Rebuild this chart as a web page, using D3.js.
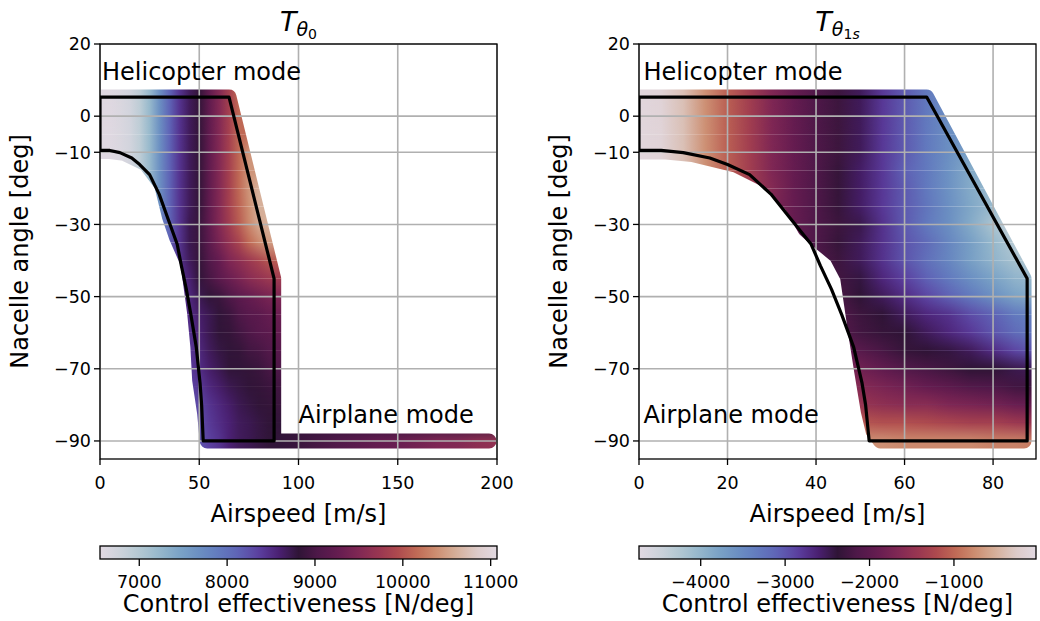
<!DOCTYPE html>
<html><head><meta charset="utf-8">
<script src="https://cdn.jsdelivr.net/npm/d3@7/dist/d3.min.js"></script>
<style>
html,body{margin:0;padding:0;background:#fff;}
svg text{font-family:"DejaVu Sans",sans-serif;fill:#000;}
</style></head>
<body><svg id="chart" width="1040" height="621" xmlns="http://www.w3.org/2000/svg"></svg>
<script>
const _ = null;
// nacelle angle rows [deg] and airspeed columns [m/s]
const angles = [5,0,-5,-10,-15,-20,-25,-30,-35,-40,-45,-50,-55,-60,-65,-70,-75,-80,-85,-90];
const speedCols = [0,5,10,15,20,25,30,35,40,45,50,55,60,65,70,75,80,85,90];

// T_theta0 control effectiveness [N/deg]
const valuesTheta0 = [
 [6590,6590,6640,6730,6910,7220,7670,8120,8440,8670,8850,9210,9520,9840,10150,_,_,_,_],
 [6590,6590,6640,6730,6910,7220,7670,8120,8440,8670,8850,9210,9520,9840,10150,_,_,_,_],
 [6590,6590,6640,6730,6910,7220,7670,8120,8440,8670,8850,9210,9520,9840,10150,_,_,_,_],
 [6590,6590,6640,6730,6910,7220,7670,8120,8440,8670,8850,9210,9520,9840,10150,10430,_,_,_],
 [_,_,_,_,6910,7220,7670,8120,8440,8670,8850,9210,9520,9840,10150,10430,_,_,_],
 [_,_,_,_,_,7220,7670,8120,8440,8670,8850,9210,9520,9840,10150,10430,10610,_,_],
 [_,_,_,_,_,_,7670,8120,8440,8670,8850,9210,9520,9840,10110,10380,10610,_,_],
 [_,_,_,_,_,_,7810,8120,8440,8710,8890,9210,9520,9790,10060,10340,10560,10610,_],
 [_,_,_,_,_,_,_,8170,8440,8710,8890,9160,9430,9660,9880,10150,10340,10470,_],
 [_,_,_,_,_,_,_,_,8440,8670,8850,9070,9250,9480,9610,9750,9880,10020,10060],
 [_,_,_,_,_,_,_,_,8440,8580,8800,8980,9160,9300,9430,9570,9660,9750,9790],
 [_,_,_,_,_,_,_,_,8440,8530,8710,8800,8890,9030,9160,9250,9340,9430,9480],
 [_,_,_,_,_,_,_,_,_,8490,8620,8710,8800,8890,9030,9120,9160,9250,9300],
 [_,_,_,_,_,_,_,_,_,8440,8580,8710,8800,8850,8940,9030,9120,9160,9210],
 [_,_,_,_,_,_,_,_,_,8400,8530,8670,8760,8800,8850,8940,8980,9070,9120],
 [_,_,_,_,_,_,_,_,_,8400,8490,8620,8710,8800,8800,8850,8890,8980,9030],
 [_,_,_,_,_,_,_,_,_,8350,8400,8530,8620,8710,8760,8800,8850,8890,8940],
 [_,_,_,_,_,_,_,_,_,8260,8300,8440,8530,8620,8710,8760,8800,8850,8890],
 [_,_,_,_,_,_,_,_,_,_,8260,8400,8490,8580,8670,8710,8760,8800,8800],
 [_,_,_,_,_,_,_,_,_,_,8210,8350,8440,8580,8670,8710,8760,8800,8800]
];
// airplane-mode row (-90 deg) beyond 90 m/s for T_theta0
const airplaneSpeeds = [100,110,120,130,140,150,160,170,180,190,200];
const airplaneTheta0 = [8890,8980,9070,9160,9250,9300,9390,9480,9520,9610,9660];

// T_theta1s control effectiveness [N/deg]
const valuesTheta1s = [
 [-80,-130,-360,-730,-1060,-1340,-1670,-1910,-2140,-2280,-2520,-2800,-3030,-3310,-3550,_,_,_,_],
 [-80,-130,-360,-730,-1060,-1340,-1670,-1910,-2140,-2280,-2520,-2800,-3030,-3310,-3550,_,_,_,_],
 [-80,-130,-360,-730,-1060,-1340,-1670,-1910,-2140,-2280,-2520,-2800,-3030,-3310,-3550,_,_,_,_],
 [-80,-130,-360,-730,-1060,-1340,-1670,-1910,-2140,-2280,-2520,-2800,-3030,-3310,-3550,-3780,_,_,_],
 [_,_,_,-730,-1060,-1340,-1670,-1910,-2140,-2330,-2560,-2800,-3080,-3310,-3590,-3880,_,_,_],
 [_,_,_,_,_,-1340,-1630,-1910,-2140,-2330,-2560,-2800,-3030,-3310,-3590,-3880,-4060,_,_],
 [_,_,_,_,_,_,-1670,-1910,-2140,-2330,-2560,-2800,-3030,-3270,-3550,-3830,-4060,_,_],
 [_,_,_,_,_,_,-1720,-1910,-2140,-2280,-2470,-2750,-3030,-3310,-3550,-3880,-4200,-4440,_],
 [_,_,_,_,_,_,_,-1950,-2140,-2330,-2520,-2750,-2990,-3170,-3450,-3740,-4020,-4300,_],
 [_,_,_,_,_,_,_,_,-2140,-2280,-2520,-2750,-2990,-3220,-3450,-3740,-3970,-4160,-4250],
 [_,_,_,_,_,_,_,_,-2100,-2240,-2420,-2660,-2850,-3080,-3310,-3550,-3780,-3970,-4060],
 [_,_,_,_,_,_,_,_,-2100,-2190,-2380,-2520,-2700,-2890,-3080,-3310,-3550,-3780,-3880],
 [_,_,_,_,_,_,_,_,_,-2100,-2280,-2380,-2520,-2660,-2750,-2940,-3080,-3310,-3410],
 [_,_,_,_,_,_,_,_,_,-2050,-2240,-2330,-2380,-2520,-2660,-2800,-2990,-3170,-3310],
 [_,_,_,_,_,_,_,_,_,-1910,-2050,-2190,-2330,-2380,-2420,-2520,-2700,-2890,-3030],
 [_,_,_,_,_,_,_,_,_,-1720,-1810,-1950,-2100,-2190,-2280,-2380,-2380,-2470,-2520],
 [_,_,_,_,_,_,_,_,_,-1580,-1630,-1720,-1810,-1910,-2000,-2100,-2140,-2240,-2280],
 [_,_,_,_,_,_,_,_,_,-1390,-1440,-1530,-1580,-1580,-1670,-1720,-1770,-1860,-1910],
 [_,_,_,_,_,_,_,_,_,_,-1110,-1160,-1160,-1200,-1250,-1300,-1300,-1390,-1440],
 [_,_,_,_,_,_,_,_,_,_,-730,-730,-780,-780,-780,-780,-830,-830,-880]
];

// extent of the sampled points (speed, angle) for each panel
const regionTheta0Speed = [0,65,87.5,87.5,196,54,52.7,50.2,49.3,47.7,44.3,38.4,35,31,23,12,5,0];
const regionTheta0Angle = [5.3,5.3,-45,-90,-90,-90,-82.3,-73.1,-63.9,-54.6,-40.8,-33.4,-27.9,-19,-13.2,-10.3,-9.8,-9.8];
const regionTheta1sSpeed = [0,65,87,87,54.5,52.9,51.8,50.3,49.1,48.0,47.1,44.6,40,37.5,34.5,29.6,22,12,5.5,0];
const regionTheta1sAngle = [5.3,5.3,-45,-90,-90,-87.3,-81.7,-70.6,-61.2,-52,-44.5,-38.7,-34.1,-31.3,-24.8,-18.3,-13.6,-10.6,-9.9,-9.9];

// flight envelope outline
const envelopeSpeed = [0,65,87.7,87.7,52,51.2,50.4,48.5,45.8,43.5,41,38.9,34.3,29.8,25,20,16,10,5,0,0];
const envelopeAngle = [5.3,5.3,-45,-90,-90,-80,-74,-64,-55,-48,-41.5,-35.5,-28.5,-21.6,-16.2,-13.4,-11.6,-10.1,-9.5,-9.5,5.3];

// ticks
const yTicks = [20,0,-10,-30,-50,-70,-90];
const xTicksTheta0 = [0,50,100,150,200];
const xTicksTheta1s = [0,20,40,60,80];
const cbTicksTheta0 = [7000,8000,9000,10000,11000];
const cbTicksTheta1s = [-4000,-3000,-2000,-1000];
const cbRangeTheta0 = [6553,11072];
const cbRangeTheta1s = [-4731,-28];

// twilight colormap samples
const twilightStops = ["#e2d9e2","#cdd3db","#b3c8d2","#96b8cc","#7ba3c6","#6b8fc2","#627abe","#5f62b5","#5b3f9f","#4b2073","#2f1436","#4f1849","#651c50","#7f2754","#983551","#ae4a4e","#c16c56","#cd9073","#d6b19c","#ddcbc9","#e2d9e2"];

const svg = d3.select("#chart");
const defs = svg.append("defs");
const AX = {top:44, bottom:459, width:397};
const CB = {top:546, height:13};
const R = 7.5;
const fmt = v => String(v).replace("-", "\u2212");

const cmap = d3.scaleLinear()
  .domain(twilightStops.map((c,i)=>i/(twilightStops.length-1)))
  .range(twilightStops).interpolate(d3.interpolateRgb).clamp(true);

const ramp = defs.append("linearGradient").attr("id","ramp").attr("x1",0).attr("y1",0).attr("x2",0).attr("y2",1);
ramp.append("stop").attr("offset",0).attr("stop-color","#fff").attr("stop-opacity",0);
ramp.append("stop").attr("offset",1).attr("stop-color","#fff").attr("stop-opacity",1);
defs.append("mask").attr("id","rampMask").attr("maskContentUnits","objectBoundingBox")
  .attr("x",0).attr("y",0).attr("width",1).attr("height",1)
  .append("rect").attr("x",0).attr("y",0).attr("width",1).attr("height",1).attr("fill","url(#ramp)");

const panels = [
  {id:"p0", left:100, xDomain:[0,200], xTicks:xTicksTheta0, values:valuesTheta0,
   extraSpeeds:airplaneSpeeds, extraValues:airplaneTheta0, vDomain:cbRangeTheta0, cbTicks:cbTicksTheta0,
   regionSpeed:regionTheta0Speed, regionAngle:regionTheta0Angle, sub:["0"], airplane:[100,-85]},
  {id:"p1", left:639, xDomain:[0,89.7], xTicks:xTicksTheta1s, values:valuesTheta1s,
   extraSpeeds:null, extraValues:null, vDomain:cbRangeTheta1s, cbTicks:cbTicksTheta1s,
   regionSpeed:regionTheta1sSpeed, regionAngle:regionTheta1sAngle, sub:["1","s"], airplane:[1,-85]}
];

panels.forEach(p => {
  const x = d3.scaleLinear().domain(p.xDomain).range([p.left, p.left+AX.width]);
  const y = d3.scaleLinear().domain([-95,20]).range([AX.bottom, AX.top]);
  const cnorm = d3.scaleLinear().domain(p.vDomain).range([0,1]);
  const color = v => cmap(cnorm(v));
  const line = d3.line().x(d=>x(d[0])).y(d=>y(d[1]));

  defs.append("clipPath").attr("id",p.id+"-clip").append("rect")
    .attr("x",p.left).attr("y",AX.top).attr("width",AX.width).attr("height",AX.bottom-AX.top);
  const regionMask = defs.append("mask").attr("id",p.id+"-region").attr("maskUnits","userSpaceOnUse")
    .attr("x",0).attr("y",0).attr("width",1040).attr("height",621);
  const region = p.regionSpeed.map((s,i)=>[s,p.regionAngle[i]]);
  regionMask.append("path").attr("d",line(region)+"Z").attr("fill","#fff").attr("stroke","#fff")
    .attr("stroke-width",2*R).attr("stroke-linejoin","round").attr("stroke-linecap","round");

  const rows = angles.map((a,i)=>{
    const pts = speedCols.map((s,j)=>[s,p.values[i][j]]).filter(d=>d[1]!==null);
    if (i===angles.length-1 && p.extraSpeeds) p.extraSpeeds.forEach((s,j)=>pts.push([s,p.extraValues[j]]));
    return {a, pts};
  });
  rows.forEach((r,i)=>{
    const x1 = x(r.pts[0][0]), x2 = x(r.pts[r.pts.length-1][0]);
    const gid = `${p.id}-row${i}`;
    const gr = defs.append("linearGradient").attr("id",gid).attr("gradientUnits","userSpaceOnUse")
      .attr("x1",x1).attr("x2",x2).attr("y1",0).attr("y2",0);
    r.pts.forEach(d=>gr.append("stop").attr("offset",(x(d[0])-x1)/(x2-x1)).attr("stop-color",color(d[1])));
    r.grad = `url(#${gid})`;
  });

  const field = svg.append("g").attr("clip-path",`url(#${p.id}-clip)`)
    .append("g").attr("mask",`url(#${p.id}-region)`);
  const n = rows.length;
  rows.forEach((r,i)=>{
    const yTop = i===0 ? y(r.a+5) : y(r.a);
    const yBot = i===n-1 ? y(r.a-5) : y(rows[i+1].a);
    field.append("rect").attr("x",p.left).attr("y",yTop).attr("width",AX.width)
      .attr("height",yBot-yTop).attr("fill",r.grad);
  });
  rows.forEach((r,i)=>{
    if (i===0) return;
    const xs = r.pts[0][0]===0 ? p.left : x(r.pts[0][0]);
    const yTop = y(rows[i-1].a), yBot = y(r.a);
    field.append("rect").attr("x",xs).attr("y",yTop).attr("width",p.left+AX.width-xs)
      .attr("height",yBot-yTop).attr("fill",r.grad).attr("mask","url(#rampMask)");
  });

  // grid
  const grid = svg.append("g").attr("stroke","#b0b0b0").attr("stroke-width",1.6);
  p.xTicks.forEach(t=>grid.append("line").attr("x1",x(t)).attr("x2",x(t)).attr("y1",AX.top).attr("y2",AX.bottom));
  yTicks.forEach(t=>grid.append("line").attr("x1",p.left).attr("x2",p.left+AX.width).attr("y1",y(t)).attr("y2",y(t)));

  // envelope
  svg.append("path").attr("d",line(envelopeSpeed.map((s,i)=>[s,envelopeAngle[i]])))
    .attr("fill","none").attr("stroke","#000").attr("stroke-width",3.2).attr("stroke-linejoin","round")
    .attr("clip-path",`url(#${p.id}-clip)`);

  // annotations
  svg.append("text").attr("x",x(1)).attr("y",y(10)).attr("font-size",24).text("Helicopter mode");
  svg.append("text").attr("x",x(p.airplane[0])).attr("y",y(p.airplane[1])).attr("font-size",24).text("Airplane mode");

  // spines
  svg.append("rect").attr("x",p.left).attr("y",AX.top).attr("width",AX.width).attr("height",AX.bottom-AX.top)
    .attr("fill","none").attr("stroke","#000").attr("stroke-width",1.3);

  // ticks
  const tk = svg.append("g").attr("stroke","#000").attr("stroke-width",1.3);
  p.xTicks.forEach(t=>{
    tk.append("line").attr("x1",x(t)).attr("x2",x(t)).attr("y1",AX.bottom).attr("y2",AX.bottom+6);
    svg.append("text").attr("x",x(t)).attr("y",AX.bottom+30).attr("text-anchor","middle").attr("font-size",17.5).text(fmt(t));
  });
  yTicks.forEach(t=>{
    tk.append("line").attr("x1",p.left-6).attr("x2",p.left).attr("y1",y(t)).attr("y2",y(t));
    svg.append("text").attr("x",p.left-9).attr("y",y(t)+6.3).attr("text-anchor","end").attr("font-size",17.5).text(fmt(t));
  });

  // axis labels
  svg.append("text").attr("x",p.left+AX.width/2).attr("y",522).attr("text-anchor","middle").attr("font-size",24).text("Airspeed [m/s]");
  svg.append("text").attr("transform",`translate(${p.left-72},${(AX.top+AX.bottom)/2}) rotate(-90)`)
    .attr("text-anchor","middle").attr("font-size",24).text("Nacelle angle [deg]");

  // title
  const title = svg.append("text").attr("x",p.left+AX.width/2).attr("y",31).attr("text-anchor","middle");
  title.append("tspan").attr("font-size",27).attr("font-style","italic").text("T");
  title.append("tspan").attr("font-size",19).attr("font-style","italic").attr("dy",5).text("\u03b8");
  if (p.sub.length===1) {
    title.append("tspan").attr("font-size",14).attr("dy",3).text(p.sub[0]);
  } else {
    title.append("tspan").attr("font-size",14).attr("dy",3).text(p.sub[0]);
    title.append("tspan").attr("font-size",14).attr("font-style","italic").text(p.sub[1]);
  }

  // colorbar
  const cb = d3.scaleLinear().domain(p.vDomain).range([p.left, p.left+AX.width]);
  const cg = defs.append("linearGradient").attr("id",p.id+"-cb").attr("x1",0).attr("x2",1).attr("y1",0).attr("y2",0);
  d3.range(0,1.0001,1/64).forEach(t=>cg.append("stop").attr("offset",t).attr("stop-color",cmap(t)));
  svg.append("rect").attr("x",p.left).attr("y",CB.top).attr("width",AX.width).attr("height",CB.height)
    .attr("fill",`url(#${p.id}-cb)`).attr("stroke","#000").attr("stroke-width",1.3);
  p.cbTicks.forEach(t=>{
    svg.append("line").attr("x1",cb(t)).attr("x2",cb(t)).attr("y1",CB.top+CB.height).attr("y2",CB.top+CB.height+7)
      .attr("stroke","#000").attr("stroke-width",1.3);
    svg.append("text").attr("x",cb(t)).attr("y",588).attr("text-anchor","middle").attr("font-size",17.5).text(fmt(t));
  });
  svg.append("text").attr("x",p.left+AX.width/2).attr("y",612).attr("text-anchor","middle").attr("font-size",24)
    .text("Control effectiveness [N/deg]");
});
</script>
</body></html>
